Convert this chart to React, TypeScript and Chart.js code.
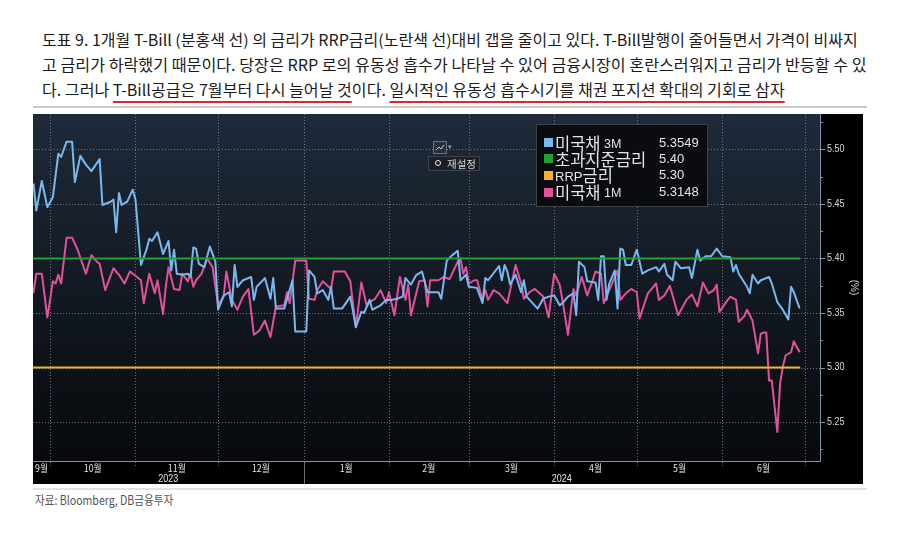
import React, { useEffect, useLayoutEffect, useRef } from "react";
import { Chart, registerables } from "chart.js";

Chart.register(...registerables);

// ---------------- text ----------------
const titleLine1 =
  "도표 9. 1개월 T-Bill (분홍색 선) 의 금리가 RRP금리(노란색 선)대비 갭을 줄이고 있다. T-Bill발행이 줄어들면서 가격이 비싸지";
const titleLine2 =
  "고 금리가 하락했기 때문이다. 당장은 RRP 로의 유동성 흡수가 나타날 수 있어 금융시장이 혼란스러워지고 금리가 반등할 수 있";
const titleLine3Parts = [
  { text: "다. 그러나 ", underline: false },
  { text: "T-Bill공급은 7월부터 다시 늘어날 것", underline: true },
  { text: "이다. ", underline: false },
  { text: "일시적인 유동성 흡수시기를 채권 포지션 확대의 기회로 삼자", underline: true },
];
const sourceText = "자료: Bloomberg, DB금융투자";

// ---------------- axes (x = days from 2023-10-01) ----------------
const xMin = -6.2;
const xMax = 279.5;
const yMin = 5.2143;
const yMax = 5.5324;
const monthStartDays = [0, 31, 61, 92, 123, 152, 183, 213, 244, 274];
const monthLabels = ["9월", "10월", "11월", "12월", "1월", "2월", "3월", "4월", "5월", "6월"];
const yearStartDay = 92;
const yearLabels = ["2023", "2024"];
const yTicks = [5.25, 5.3, 5.35, 5.4, 5.45, 5.5];
const yMinorTicks = [5.225, 5.275, 5.325, 5.375, 5.425, 5.475, 5.525];
const yUnit = "(%)";

// ---------------- series ----------------
const bill3mDays = [
  -6, -5, -3, -1, 1, 3, 4, 6, 8, 9, 11, 13, 15, 18, 19, 22, 23, 24, 25, 26, 28, 30, 31, 33, 35, 36, 37, 39, 41, 43,
  44, 45, 46, 48, 50, 51, 52, 53, 54, 56, 58, 60, 61, 63, 65, 66, 67, 68, 70, 73, 74, 75, 78, 80, 81, 82, 85, 88, 89,
  93, 94, 96, 97, 99, 101, 102, 103, 106, 109, 111, 113, 114, 116, 117, 120, 122, 124, 126, 128, 129, 131, 133, 135,
  137, 138, 141, 142, 144, 146, 148, 149, 151, 152, 155, 157, 158, 159, 163, 164, 165, 166, 167, 169, 171, 172, 173,
  177, 179, 181, 183, 185, 186, 188, 190, 191, 192, 194, 195, 198, 199, 200, 201, 202, 203, 205, 206, 207, 208, 209,
  211, 213, 215, 217, 220, 221, 223, 224, 226, 227, 229, 232, 233, 235, 236, 238, 240, 242, 244, 247, 248, 249, 250,
  253, 254, 255, 257, 258, 261, 262, 264, 266, 268, 269, 270, 272,
];
const bill3mVals = [
  5.468, 5.444, 5.471, 5.447, 5.456, 5.496, 5.493, 5.507, 5.507, 5.47, 5.494, 5.486, 5.48, 5.491, 5.449, 5.452, 5.454,
  5.424, 5.46, 5.449, 5.452, 5.463, 5.454, 5.394, 5.408, 5.418, 5.416, 5.424, 5.404, 5.416, 5.389, 5.408, 5.386, 5.385,
  5.386, 5.383, 5.41, 5.409, 5.395, 5.392, 5.411, 5.397, 5.353, 5.366, 5.369, 5.356, 5.394, 5.374, 5.38, 5.383, 5.362,
  5.374, 5.382, 5.363, 5.382, 5.354, 5.354, 5.38, 5.333, 5.333, 5.389, 5.383, 5.368, 5.371, 5.362, 5.374, 5.354, 5.354,
  5.365, 5.337, 5.351, 5.35, 5.362, 5.353, 5.357, 5.362, 5.362, 5.363, 5.365, 5.382, 5.376, 5.385, 5.388, 5.369, 5.369,
  5.369, 5.363, 5.398, 5.403, 5.407, 5.38, 5.385, 5.374, 5.373, 5.359, 5.382, 5.38, 5.393, 5.38, 5.394, 5.388, 5.376,
  5.385, 5.369, 5.38, 5.365, 5.354, 5.363, 5.365, 5.366, 5.357, 5.359, 5.365, 5.368, 5.348, 5.397, 5.392, 5.379, 5.378,
  5.362, 5.402, 5.402, 5.362, 5.377, 5.389, 5.354, 5.409, 5.408, 5.394, 5.394, 5.408, 5.386, 5.389, 5.392, 5.388, 5.395,
  5.385, 5.38, 5.397, 5.391, 5.392, 5.382, 5.408, 5.398, 5.402, 5.402, 5.409, 5.402, 5.401, 5.388, 5.394, 5.386, 5.374,
  5.368, 5.385, 5.377, 5.38, 5.383, 5.377, 5.36, 5.353, 5.344, 5.374, 5.369, 5.3549,
];

const bill1mDays = [
  -6, -5, -3, -1, 0, 1, 2, 3, 4, 6, 8, 10, 13, 15, 17, 18, 20, 23, 25, 27, 29, 33, 34, 36, 38, 39, 41, 42, 43, 45, 47,
  48, 50, 51, 52, 53, 55, 57, 59, 61, 63, 64, 66, 68, 70, 72, 74, 76, 78, 80, 82, 85, 86, 87, 89, 93, 94, 96, 97, 99,
  102, 103, 107, 109, 111, 113, 115, 116, 118, 120, 122, 123, 125, 127, 129, 130, 131, 134, 136, 137, 138, 141, 143,
  145, 148, 149, 150, 151, 152, 154, 155, 157, 158, 159, 161, 163, 166, 169, 171, 172, 174, 176, 179, 181, 183, 185,
  186, 188, 190, 191, 193, 195, 197, 198, 200, 201, 204, 206, 207, 209, 211, 213, 214, 217, 220, 221, 223, 225, 228,
  231, 233, 235, 237, 239, 241, 242, 243, 246, 247, 249, 250, 252, 253, 255, 257, 258, 259, 260, 261, 262, 264, 265,
  266, 267, 269, 270, 271, 272,
];
const bill1mVals = [
  5.369, 5.386, 5.386, 5.346, 5.362, 5.379, 5.377, 5.385, 5.377, 5.419, 5.419, 5.408, 5.386, 5.403, 5.397, 5.395, 5.371,
  5.391, 5.385, 5.377, 5.388, 5.38, 5.359, 5.386, 5.368, 5.38, 5.349, 5.374, 5.392, 5.372, 5.371, 5.386, 5.379, 5.386,
  5.374, 5.38, 5.386, 5.4, 5.392, 5.357, 5.365, 5.388, 5.362, 5.353, 5.365, 5.372, 5.33, 5.334, 5.343, 5.328, 5.356,
  5.357, 5.369, 5.359, 5.398, 5.398, 5.363, 5.362, 5.371, 5.379, 5.372, 5.388, 5.388, 5.379, 5.337, 5.378, 5.356, 5.36,
  5.363, 5.371, 5.359, 5.369, 5.348, 5.383, 5.362, 5.376, 5.348, 5.379, 5.38, 5.356, 5.38, 5.38, 5.383, 5.381, 5.397,
  5.4, 5.386, 5.392, 5.377, 5.38, 5.38, 5.362, 5.371, 5.362, 5.371, 5.368, 5.359, 5.394, 5.377, 5.363, 5.369, 5.372,
  5.365, 5.346, 5.386, 5.376, 5.362, 5.33, 5.372, 5.366, 5.383, 5.366, 5.38, 5.388, 5.386, 5.359, 5.377, 5.389, 5.362,
  5.368, 5.372, 5.369, 5.345, 5.368, 5.377, 5.362, 5.366, 5.375, 5.348, 5.362, 5.367, 5.356, 5.378, 5.368, 5.371, 5.376,
  5.351, 5.362, 5.365, 5.362, 5.342, 5.347, 5.353, 5.343, 5.313, 5.331, 5.332, 5.332, 5.288, 5.288, 5.241, 5.285, 5.301,
  5.311, 5.314, 5.324, 5.319, 5.3148,
];

const rateDays = [-6, 272];
const iorbRate = [5.4, 5.4];
const rrpRate = [5.3, 5.3];

// ---------------- legend ----------------
const legendItems = [
  { pre: "", main: "미국채", post: " 3M", value: "5.3549", color: "#79b9ee" },
  { pre: "", main: "초과지준금리", post: "", value: "5.40", color: "#1ea232" },
  { pre: "RRP", main: "금리", post: "", value: "5.30", color: "#f5b127" },
  { pre: "", main: "미국채", post: " 1M", value: "5.3148", color: "#e2529c" },
];

const BLUE = "#79b9ee";
const GREEN = "#1ea232";
const YELLOW = "#f5b127";
const PINK = "#e2529c";

const CJK = "'Noto Sans CJK KR', 'Noto Sans', sans-serif";

function FitText(props: { target: number; style: React.CSSProperties; children: React.ReactNode }) {
  const ref = useRef<HTMLDivElement>(null);
  useLayoutEffect(() => {
    const el = ref.current;
    if (!el) return;
    const fit = () => {
      el.style.transform = "none";
      const w = el.offsetWidth;
      if (w > 0) el.style.transform = `scaleX(${props.target / w})`;
    };
    fit();
    const fonts = (document as any).fonts;
    if (fonts && fonts.ready) fonts.ready.then(fit);
  }, [props.target]);
  return (
    <div
      ref={ref}
      style={{ position: "absolute", whiteSpace: "nowrap", transformOrigin: "0 0", ...props.style }}
    >
      {props.children}
    </div>
  );
}

const bbgPlugin = {
  id: "bbgDecor",
  beforeDraw(chart: any) {
    const { ctx, chartArea: a, width, height } = chart;
    ctx.save();
    ctx.fillStyle = "#000";
    ctx.fillRect(0, 0, width, height);
    const g = ctx.createLinearGradient(0, a.top, 0, a.bottom);
    g.addColorStop(0, "#1f2b3a");
    g.addColorStop(0.45, "#141b25");
    g.addColorStop(1, "#07090c");
    ctx.fillStyle = g;
    ctx.fillRect(a.left, a.top, a.right - a.left, a.bottom - a.top);
    ctx.restore();
  },
  beforeDatasetsDraw(chart: any) {
    const { ctx, chartArea: a, scales, height } = chart;
    const x = scales.x;
    const y = scales.y;
    ctx.save();
    const seg = (x1: number, y1: number, x2: number, y2: number) => {
      ctx.beginPath();
      ctx.moveTo(x1, y1);
      ctx.lineTo(x2, y2);
      ctx.stroke();
    };
    // dotted grid
    ctx.strokeStyle = "rgba(165,175,188,0.6)";
    ctx.lineWidth = 1;
    ctx.setLineDash([1, 2]);
    for (const t of yTicks) {
      const py = Math.round(y.getPixelForValue(t)) + 0.5;
      seg(a.left, py, a.right, py);
    }
    for (const d of monthStartDays) {
      const px = Math.round(x.getPixelForValue(d)) + 0.5;
      seg(px, a.top, px, a.bottom + 5);
    }
    ctx.setLineDash([]);
    // axis lines
    ctx.strokeStyle = "#8593a6";
    seg(a.left, a.bottom + 0.5, a.right + 0.5, a.bottom + 0.5);
    seg(a.right + 0.5, a.top, a.right + 0.5, a.bottom + 0.5);
    // y ticks
    for (const t of yTicks) {
      const py = Math.round(y.getPixelForValue(t)) + 0.5;
      seg(a.right, py, a.right + 5, py);
    }
    for (const t of yMinorTicks) {
      const py = Math.round(y.getPixelForValue(t)) + 0.5;
      seg(a.right, py, a.right + 3, py);
    }
    // year separator
    ctx.strokeStyle = "#6d6d6d";
    const sx = Math.round(x.getPixelForValue(yearStartDay)) + 0.5;
    seg(sx, a.bottom + 1, sx, height);

    // y labels
    ctx.fillStyle = "#d2d8df";
    ctx.textBaseline = "middle";
    ctx.textAlign = "left";
    ctx.font = "10px 'Liberation Sans', Arial, sans-serif";
    for (const t of yTicks) {
      const py = y.getPixelForValue(t);
      ctx.save();
      ctx.translate(a.right + 7, py);
      ctx.scale(0.9, 1);
      ctx.fillText(t.toFixed(2), 0, 0);
      ctx.restore();
    }
    // unit
    ctx.save();
    ctx.translate(a.right + 34, (a.top + a.bottom) / 2);
    ctx.rotate(Math.PI / 2);
    ctx.textAlign = "center";
    ctx.fillText(yUnit, 0, 0);
    ctx.restore();

    // month labels
    ctx.fillStyle = "#e4e4e4";
    ctx.textAlign = "center";
    ctx.font = `10px ${CJK}`;
    const bounds = [xMin, ...monthStartDays];
    for (let i = 0; i < monthLabels.length; i++) {
      const px = (x.getPixelForValue(bounds[i]) + x.getPixelForValue(bounds[i + 1])) / 2;
      ctx.save();
      ctx.translate(px, a.bottom + 7);
      ctx.scale(0.88, 1);
      ctx.fillText(monthLabels[i], 0, 0);
      ctx.restore();
    }
    // year labels
    ctx.font = "10px 'Liberation Sans', Arial, sans-serif";
    const ySpans = [
      [xMin, yearStartDay],
      [yearStartDay, xMax],
    ];
    for (let i = 0; i < yearLabels.length; i++) {
      const px = (x.getPixelForValue(ySpans[i][0]) + x.getPixelForValue(ySpans[i][1])) / 2;
      ctx.save();
      ctx.translate(px, a.bottom + 18.5);
      ctx.scale(0.9, 1);
      ctx.fillText(yearLabels[i], 0, 0);
      ctx.restore();
    }
    ctx.restore();
  },
};

function BbgChart() {
  const canvasRef = useRef<HTMLCanvasElement>(null);
  useEffect(() => {
    const canvas = canvasRef.current;
    if (!canvas) return;
    const toPts = (days: number[], vals: number[]) => days.map((d, i) => ({ x: d, y: vals[i] }));
    const chart = new Chart(canvas, {
      type: "line",
      data: {
        datasets: [
          { label: "초과지준금리", data: toPts(rateDays, iorbRate), borderColor: GREEN, borderWidth: 2, pointRadius: 0 },
          { label: "RRP금리", data: toPts(rateDays, rrpRate), borderColor: YELLOW, borderWidth: 2, pointRadius: 0 },
          { label: "미국채 3M", data: toPts(bill3mDays, bill3mVals), borderColor: BLUE, borderWidth: 2, pointRadius: 0 },
          { label: "미국채 1M", data: toPts(bill1mDays, bill1mVals), borderColor: PINK, borderWidth: 2, pointRadius: 0 },
        ],
      },
      options: {
        responsive: false,
        maintainAspectRatio: false,
        animation: false,
        devicePixelRatio: 1,
        events: [],
        layout: { padding: { left: 0, top: 0, right: 43, bottom: 23 } },
        elements: { line: { tension: 0, borderJoinStyle: "round", borderCapStyle: "round" } },
        scales: {
          x: { type: "linear", display: false, min: xMin, max: xMax },
          y: { type: "linear", display: false, min: yMin, max: yMax },
        },
        plugins: { legend: { display: false }, tooltip: { enabled: false }, title: { display: false } },
      } as any,
      plugins: [bbgPlugin as any],
    });
    const fonts = (document as any).fonts;
    let alive = true;
    if (fonts && fonts.ready) {
      fonts.ready.then(() => {
        if (alive) chart.draw();
      });
    }
    return () => {
      alive = false;
      chart.destroy();
    };
  }, []);
  return (
    <canvas
      ref={canvasRef}
      width={830}
      height={370}
      style={{ position: "absolute", left: 33, top: 114, width: 830, height: 370 }}
    />
  );
}

export default function App() {
  const lineStyle: React.CSSProperties = {
    left: 42,
    fontFamily: CJK,
    fontSize: 15.5,
    lineHeight: "20px",
    color: "#1b1b1b",
  };
  const smallLatin: React.CSSProperties = {
    fontFamily: "'Liberation Sans', sans-serif",
    position: "relative",
    top: -2,
  };
  return (
    <div
      style={{
        position: "absolute",
        left: 0,
        top: 0,
        width: 900,
        height: 539,
        background: "#fff",
        overflow: "hidden",
        fontFamily: CJK,
      }}
    >
      <FitText target={816} style={{ ...lineStyle, top: 29 }}>
        {titleLine1}
      </FitText>
      <FitText target={825} style={{ ...lineStyle, top: 53.5 }}>
        {titleLine2}
      </FitText>
      <FitText target={743} style={{ ...lineStyle, top: 79 }}>
        {titleLine3Parts.map((p, i) => (
          <span
            key={i}
            style={
              p.underline
                ? {
                    textDecoration: "underline",
                    textDecorationColor: "#e3262b",
                    textDecorationThickness: "1.6px",
                    textUnderlineOffset: "5px",
                  }
                : undefined
            }
          >
            {p.text}
          </span>
        ))}
      </FitText>
      <div style={{ position: "absolute", left: 33, top: 106, width: 834, height: 2, background: "#c9c9c9" }} />

      <BbgChart />

      {/* Bloomberg chart widgets */}
      <div
        style={{
          position: "absolute",
          left: 433,
          top: 141,
          width: 12,
          height: 11,
          background: "#2a3039",
          border: "1px solid #6b727c",
        }}
      >
        <svg width="12" height="11" style={{ display: "block" }}>
          <polyline points="2,8 5,5 7,7 10,3" fill="none" stroke="#c9ced6" strokeWidth="1" />
        </svg>
      </div>
      <div
        style={{
          position: "absolute",
          left: 448,
          top: 141,
          fontSize: 7,
          lineHeight: "12px",
          color: "#9aa2ad",
          fontFamily: "'DejaVu Sans', sans-serif",
        }}
      >
        ▾
      </div>
      <div
        style={{
          position: "absolute",
          left: 428,
          top: 156,
          width: 50,
          height: 13,
          background: "#1b1f25",
          border: "1px solid #3e444c",
        }}
      >
        <div
          style={{
            position: "absolute",
            left: 5.5,
            top: 3,
            width: 4,
            height: 4,
            borderRadius: "50%",
            border: "1.6px solid #e8ebef",
            background: "#1b1f25",
          }}
        />
        <div
          style={{
            position: "absolute",
            left: 18,
            top: 0,
            fontSize: 10.5,
            lineHeight: "13px",
            color: "#cfd4da",
            fontFamily: CJK,
          }}
        >
          재설정
        </div>
      </div>

      {/* legend */}
      <div
        style={{
          position: "absolute",
          left: 536,
          top: 124,
          width: 170,
          height: 81,
          background: "rgba(9,11,14,0.95)",
          border: "1px solid #3d434b",
          color: "#e2e5e9",
        }}
      >
        {legendItems.map((it, i) => {
          const cy = [17.5, 33.7, 50.2, 67.3][i];
          return (
            <React.Fragment key={i}>
              <div
                style={{
                  position: "absolute",
                  left: 7,
                  top: cy - 4.5,
                  width: 9,
                  height: 9,
                  background: it.color,
                }}
              />
              <div
                style={{
                  position: "absolute",
                  left: 18,
                  top: cy - 11,
                  height: 22,
                  lineHeight: "22px",
                  whiteSpace: "nowrap",
                  fontFamily: CJK,
                  fontSize: 16.5,
                }}
              >
                {it.pre ? <span style={{ ...smallLatin, fontSize: 13, top: -1 }}>{it.pre}</span> : null}
                {it.main}
                {it.post ? <span style={{ ...smallLatin, fontSize: 12.5 }}>{it.post}</span> : null}
              </div>
              <div
                style={{
                  position: "absolute",
                  left: 122,
                  top: cy - 9,
                  height: 18,
                  lineHeight: "18px",
                  fontSize: 13,
                  fontFamily: "'Liberation Sans', sans-serif",
                  whiteSpace: "nowrap",
                }}
              >
                {it.value}
              </div>
            </React.Fragment>
          );
        })}
      </div>

      <div style={{ position: "absolute", left: 33, top: 488, width: 834, height: 2, background: "#e2e2e2" }} />
      <FitText target={138} style={{ left: 35, top: 491, fontSize: 12.5, lineHeight: "18px", color: "#555", fontFamily: CJK }}>
        {sourceText}
      </FitText>
    </div>
  );
}
